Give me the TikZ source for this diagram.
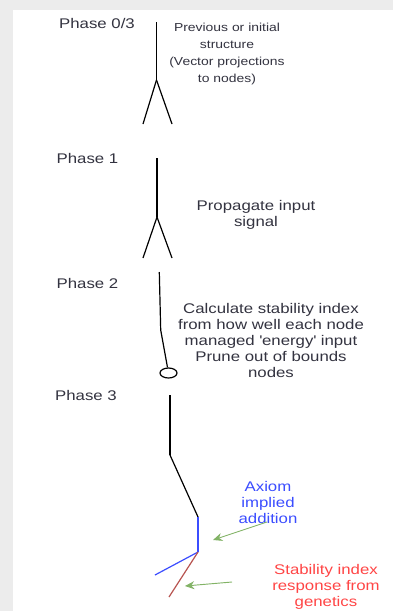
\documentclass[tikz,border=0pt]{standalone}
\usepackage{fontspec}
\setmainfont{Liberation Sans}[FakeStretch=1.2]
\usepackage{xcolor}
\usetikzlibrary{shapes.geometric, arrows.meta}
\definecolor{pagegray}{HTML}{ECECEC}
\definecolor{labelgray}{HTML}{333340}
\definecolor{axiomblue}{HTML}{3B4DFF}
\definecolor{genred}{HTML}{FF4545}
\definecolor{edgered}{HTML}{B85450}
\definecolor{hintgreen}{HTML}{82B366}

\begin{document}
\begin{tikzpicture}[x=0.75pt, y=-0.75pt,
    phase/.style={font=\fontsize{10.5}{12}\selectfont, text=labelgray, inner sep=0pt},
    note/.style={align=center, font=\fontsize{10.5}{12}\selectfont, text=labelgray, inner sep=0pt},
    smallnote/.style={align=center, font=\fontsize{8.7}{12.75}\selectfont, text=labelgray, inner sep=0pt},
    stick/.style={line width=0.9pt, black},
    hint/.style={hintgreen, line width=0.7pt, -{Stealth[length=7pt, width=6pt]}},
    >=Stealth
]
% Canvas
\useasboundingbox (0,0) rectangle (393,611);
\fill[pagegray] (0,0) rectangle (393,611);
\fill[white] (13,10) rectangle (393,611);

% Phase labels
\node[phase] (phase03) at (97,23) {Phase 0/3};
\node[phase] (phase1) at (87.5,158) {Phase 1};
\node[phase] (phase2) at (87.5,283) {Phase 2};
\node[phase] (phase3) at (86,395) {Phase 3};

% Notes
\node[smallnote] (prevnote) at (227,54) {Previous or initial\\structure\\(Vector projections\\to nodes)};
\node[note] (propnote) at (256,215) {Propagate input\\signal};
\node[note] (calcnote) at (271,340) {Calculate stability index\\from how well each node\\managed \textquotesingle energy\textquotesingle\ input\\Prune out of bounds\\nodes};
\node[note, text=axiomblue] (axiomnote) at (268,502) {Axiom\\implied\\addition};
\node[note, text=genred] (genenote) at (326,587) {Stability index\\response from\\genetics};

% Phase 0/3 structure
\coordinate (a-top) at (156.5,22);
\coordinate (a-fork) at (156.5,80);
\coordinate (a-left) at (143,124);
\coordinate (a-right) at (172,124);
\draw[stick] (a-top) -- (a-fork);
\draw[stick] (a-fork) -- (a-left);
\draw[stick] (a-fork) -- (a-right);

% Phase 1 structure
\coordinate (b-top) at (157,158);
\coordinate (b-fork) at (157,217);
\coordinate (b-left) at (143,258);
\coordinate (b-right) at (172,258);
\draw[stick] (b-top) -- (b-fork);
\draw[stick] (b-fork) -- (b-left);
\draw[stick] (b-fork) -- (b-right);

% Phase 2 structure
\coordinate (c-top) at (159.3,272);
\coordinate (c-kink) at (160.7,330);
\node[ellipse, draw, line width=0.9pt, inner sep=0pt, minimum width=12.75pt, minimum height=7.5pt] (c-leaf) at (168.5,373) {};
\draw[stick] (c-top) -- (c-kink);
\draw[stick] (c-kink) -- (c-leaf);

% Phase 3 structure
\coordinate (d-top) at (170,395);
\coordinate (d-kink) at (170,455);
\coordinate (d-joint) at (198,517);
\coordinate (d-fork) at (198,552);
\coordinate (d-blue) at (155,575);
\coordinate (d-red) at (169,597);
\draw[stick] (d-top) -- (d-kink);
\draw[stick] (d-kink) -- (d-joint);
\draw[stick, axiomblue] (d-joint) -- (d-fork);
\draw[stick, axiomblue] (d-fork) -- (d-blue);
\draw[stick, edgered] (d-fork) -- (d-red);

% Hints
\coordinate (h1-from) at (267,522);
\coordinate (h1-to) at (213,540);
\coordinate (h2-from) at (232,582);
\coordinate (h2-to) at (185,586);
\draw[hint] (h1-from) -- (h1-to);
\draw[hint] (h2-from) -- (h2-to);
\end{tikzpicture}
\end{document}
